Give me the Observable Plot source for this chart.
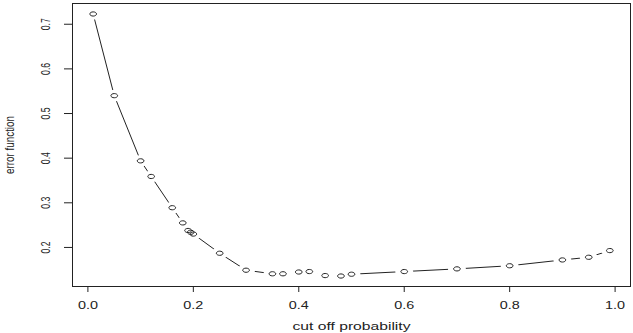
<!DOCTYPE html>
<html>
<head>
<meta charset="utf-8">
<script src="https://cdn.jsdelivr.net/npm/d3@7"></script>
<script src="https://cdn.jsdelivr.net/npm/@observablehq/plot@0.6"></script>
<style>
  html, body { margin: 0; padding: 0; background: #fff; }
  svg { display: block; font-family: "Liberation Sans", Arial, sans-serif; }
</style>
</head>
<body>
<div id="chart"></div>
<script>
// cut-off probability vs. error function
const cutoff = [0.01, 0.05, 0.1, 0.12, 0.16, 0.18, 0.19, 0.195, 0.2, 0.25, 0.3, 0.35, 0.37,
                0.4, 0.42, 0.45, 0.48, 0.5, 0.6, 0.7, 0.8, 0.9, 0.95, 0.99];
const errorValue = [0.723, 0.540, 0.394, 0.359, 0.289, 0.255, 0.238, 0.234, 0.230, 0.187, 0.149,
                    0.141, 0.141, 0.145, 0.146, 0.137, 0.136, 0.140, 0.146, 0.152, 0.159, 0.172,
                    0.178, 0.193];
const xTicks = [0, 0.2, 0.4, 0.6, 0.8, 1.0];
const yTicks = [0.2, 0.3, 0.4, 0.5, 0.6, 0.7];
const xTitle = "cut off probability";
const yTitle = "error function";

const rows = cutoff.map((c, i) => ({cutoff: c, err: errorValue[i]}));
const fmt = d3.format(".1f");

// extend the data range by 4% on each side, like R's default axis style
function padded(values) {
  const [lo, hi] = d3.extent(values);
  const pad = (hi - lo) * 0.04;
  return [lo - pad, hi + pad];
}

// an open ellipse marker (the device is wider than tall)
const ellipse = {
  draw(ctx, size) {
    const r = Math.sqrt(size / Math.PI);
    const a = r * 1.6, b = r, k = 0.5523;
    ctx.moveTo(a, 0);
    ctx.bezierCurveTo(a, k * b, k * a, b, 0, b);
    ctx.bezierCurveTo(-k * a, b, -a, k * b, -a, 0);
    ctx.bezierCurveTo(-a, -k * b, -k * a, -b, 0, -b);
    ctx.bezierCurveTo(k * a, -b, a, -k * b, a, 0);
    ctx.closePath();
  }
};

const chart = Plot.plot({
  width: 633,
  height: 333,
  marginLeft: 72,
  marginRight: 3,
  marginTop: 3,
  marginBottom: 47,
  style: {fontFamily: "Liberation Sans, Arial, sans-serif", background: "#fff", color: "#222"},
  x: {domain: padded(cutoff)},
  y: {domain: padded(errorValue)},
  marks: [
    Plot.frame({stroke: "#222", strokeWidth: 1}),
    Plot.axisX({ticks: xTicks, tickSize: 6, tickFormat: () => "", label: null, stroke: "#222"}),
    Plot.axisY({ticks: yTicks, tickSize: 8, tickFormat: () => "", label: null, stroke: "#222"}),
    // tick labels
    Plot.text(xTicks, {x: d => d, frameAnchor: "bottom", dy: 19, lineAnchor: "middle",
                       text: d => fmt(d), fontSize: 10, fill: "#222"}),
    Plot.text(yTicks, {y: d => d, frameAnchor: "left", dx: -27, rotate: -90,
                       text: d => fmt(d), fontSize: 13, fill: "#222"}),
    // axis titles
    Plot.text([yTitle], {frameAnchor: "left", dx: -62, rotate: -90, text: d => d,
                         fontSize: 12, fill: "#222"}),
    Plot.text([xTitle], {frameAnchor: "bottom", dy: 43, lineAnchor: "bottom", text: d => d,
                         fontSize: 10.5, fill: "#222"}),
    Plot.line(rows, {x: "cutoff", y: "err", stroke: "#222", strokeWidth: 1}),
    // gaps around each point, as in a "both" (points + lines) plot
    Plot.dot(rows, {x: "cutoff", y: "err", symbol: ellipse, r: 5.6, fill: "#fff", stroke: "none"}),
    Plot.dot(rows, {x: "cutoff", y: "err", symbol: ellipse, r: 2.1, fill: "none",
                    stroke: "#222", strokeWidth: 1})
  ]
});

// stretch / squeeze the glyphs to the device's aspect
function fit(el, len, rotated) {
  el.setAttribute("textLength", len);
  el.setAttribute("lengthAdjust", "spacingAndGlyphs");
  if (rotated) {
    // centre rotated labels explicitly along their own baseline
    el.setAttribute("text-anchor", "start");
    el.setAttribute("x", -len / 2);
  }
}
d3.select(chart).selectAll("text").each(function() {
  const t = this.textContent;
  const rotated = (this.getAttribute("transform") || "").includes("rotate");
  if (t === xTitle) fit(this, 118, rotated);
  else if (t === yTitle) fit(this, 58, rotated);
  else if (/^\d\.\d$/.test(t)) fit(this, rotated ? 12 : 20, rotated);
});

document.getElementById("chart").appendChild(chart);
</script>
</body>
</html>
